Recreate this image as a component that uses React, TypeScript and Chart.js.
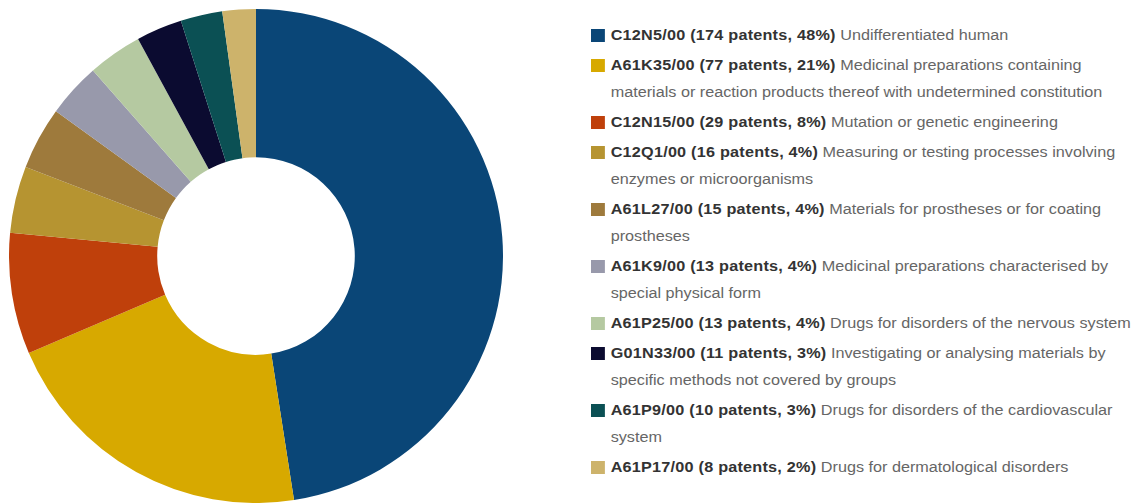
import React, { useEffect, useRef } from "react";
import { Chart, registerables } from "chart.js";

Chart.register(...registerables);

const codes = ["C12N5/00", "A61K35/00", "C12N15/00", "C12Q1/00", "A61L27/00", "A61K9/00", "A61P25/00", "G01N33/00", "A61P9/00", "A61P17/00"];
const patents = [174, 77, 29, 16, 15, 13, 13, 11, 10, 8];
const percents = ["48%", "21%", "8%", "4%", "4%", "4%", "4%", "3%", "3%", "2%"];
const descriptions = [
  "Undifferentiated human",
  "Medicinal preparations containing materials or reaction products thereof with undetermined constitution",
  "Mutation or genetic engineering",
  "Measuring or testing processes involving enzymes or microorganisms",
  "Materials for prostheses or for coating prostheses",
  "Medicinal preparations characterised by special physical form",
  "Drugs for disorders of the nervous system",
  "Investigating or analysing materials by specific methods not covered by groups",
  "Drugs for disorders of the cardiovascular system",
  "Drugs for dermatological disorders",
];
const colors = ["#0a4677", "#d7a900", "#bf400b", "#b69431", "#9e7a3c", "#9899ab", "#b5c9a1", "#0b0b30", "#0b5054", "#cdb36b"];

const FONT = '"Liberation Sans", Arial, sans-serif';
const SX = 1.157;

export default function App() {
  const canvasRef = useRef<HTMLCanvasElement | null>(null);

  useEffect(() => {
    const canvas = canvasRef.current;
    if (!canvas) return;
    const chart = new Chart(canvas, {
      type: "doughnut",
      data: {
        labels: codes,
        datasets: [
          {
            data: patents,
            backgroundColor: colors,
            borderWidth: 0,
          },
        ],
      },
      options: {
        animation: false,
        responsive: false,
        maintainAspectRatio: false,
        cutout: "40%",
        rotation: 0,
        layout: { padding: 0 },
        plugins: {
          legend: { display: false },
          tooltip: { enabled: false },
          title: { display: false },
        },
      },
    });
    return () => chart.destroy();
  }, []);

  return (
    <div
      style={{
        position: "fixed",
        left: 0,
        top: 0,
        width: 1141,
        height: 503,
        overflow: "hidden",
        background: "#ffffff",
      }}
    >
      <canvas
        ref={canvasRef}
        width={494}
        height={494}
        style={{ position: "absolute", left: 9, top: 9, width: 494, height: 494 }}
      />
      <div
        style={{
          position: "absolute",
          left: 591,
          top: 21.5,
          width: 475,
          transform: `scaleX(${SX})`,
          transformOrigin: "0 0",
          fontFamily: FONT,
          fontSize: 14,
          lineHeight: "27px",
        }}
      >
        {codes.map((code, i) => (
          <div key={code} style={{ display: "flex", alignItems: "flex-start", marginBottom: 3 }}>
            <div
              style={{
                flex: "0 0 12px",
                width: 12,
                height: 13,
                marginTop: 7,
                marginRight: 5,
                background: colors[i],
              }}
            />
            <div style={{ flex: "1 1 auto", color: "#666666" }}>
              <span style={{ fontWeight: "bold", color: "#333333", letterSpacing: "0.2px" }}>
                {`${code} (${patents[i]} patents, ${percents[i]})`}
              </span>{" "}
              {descriptions[i]}
            </div>
          </div>
        ))}
      </div>
    </div>
  );
}
